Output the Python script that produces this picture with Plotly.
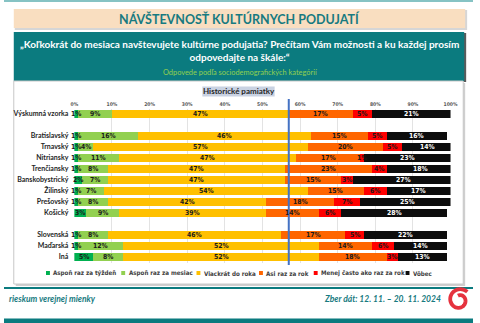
import numpy as np
import plotly.graph_objects as go

W, H = 480, 323

# Row labels (blank strings are spacer rows between groups)
row_labels = ["Výskumná vzorka", "", "Bratislavský", "Trnavský", "Nitriansky", "Trenčiansky",
              "Banskobystrický", "Žilinský", "Prešovský", "Košický", "", "Slovenská", "Maďarská", "Iná"]

series_names = ["Aspoň raz za týždeň", "Aspoň raz za mesiac", "Viackrát do roka",
                "Asi raz za rok", "Menej často ako raz za rok", "Vôbec"]

weekly = [1, None, 1, 1, 1, 1, 2, 1, 1, 3, None, 1, 1, 5]
monthly = [9, None, 16, 4, 11, 8, 7, 7, 8, 9, None, 8, 12, 8]
several_per_year = [47, None, 46, 57, 47, 47, 47, 54, 42, 39, None, 46, 52, 52]
once_per_year = [17, None, 15, 20, 17, 23, 15, 15, 18, 14, None, 17, 14, 18]
less_often = [5, None, 5, 5, 1, 4, 3, 6, 7, 6, None, 5, 6, 3]
never = [21, None, 16, 14, 23, 18, 27, 17, 25, 28, None, 22, 14, 13]

x_ticks = [0, 10, 20, 30, 40, 50, 60, 70, 80, 90, 100]
x_tick_labels = [f"{v}%" for v in x_ticks]

series = [weekly, monthly, several_per_year, once_per_year, less_often, never]
colors = ["#00B050", "#92D050", "#FFC000", "#FF6600", "#FF0000", "#0D0D0D"]
text_colors = ["#1A1A1A", "#1A1A1A", "#1A1A1A", "#1A1A1A", "#1A1A1A", "#FFFFFF"]

TEAL = "#0B7B7F"
NARROW = "Liberation Sans Narrow, Arial Narrow, DejaVu Sans Condensed, sans-serif"
SANS = "Lato, Open Sans, sans-serif"


def px(x):
    return x / W


def py(y):
    return 1 - y / H


ypos = list(range(len(row_labels)))

fig = go.Figure()
for name, vals, col in zip(series_names, series, colors):
    fig.add_trace(go.Bar(
        x=vals, y=ypos, orientation="h", name=name,
        marker=dict(color=col, line=dict(width=0)),
        width=0.8, showlegend=False, hoverinfo="skip",
    ))

# Segment value labels, centred on each segment
annotations = []
for i in ypos:
    cum = 0
    for vals, tc in zip(series, text_colors):
        v = vals[i]
        if v is None:
            continue
        annotations.append(dict(
            x=cum + v / 2, y=i, xref="x", yref="y", text=f"{v}%", showarrow=False,
            font=dict(family=NARROW, size=6.8, color=tc, weight="bold"),
            xanchor="center", yanchor="middle",
        ))
        cum += v

# Reference line at the sample's "at least several times a year" share
ref_x = weekly[0] + monthly[0] + several_per_year[0]

shapes = []
# top thin teal line
shapes.append(dict(type="rect", xref="paper", yref="paper", x0=0, x1=1, y0=py(2), y1=py(0),
                   fillcolor="#86C3C4", line=dict(width=0), layer="below"))
# title box with shadow
shapes.append(dict(type="rect", xref="paper", yref="paper", x0=px(11), x1=px(474), y0=py(30), y1=py(10),
                   fillcolor="#D6D6D6", line=dict(width=0), layer="below"))
shapes.append(dict(type="rect", xref="paper", yref="paper", x0=px(10), x1=px(472), y0=py(28), y1=py(9),
                   fillcolor="#F9DEC0", line=dict(width=0), layer="below"))
# question box
shapes.append(dict(type="rect", xref="paper", yref="paper", x0=px(11), x1=px(473), y0=py(82), y1=py(33),
                   fillcolor="#5A5A5A", line=dict(width=0), layer="below"))
shapes.append(dict(type="rect", xref="paper", yref="paper", x0=px(10), x1=px(471), y0=py(81), y1=py(32),
                   fillcolor=TEAL, line=dict(width=0), layer="below"))
# chart panel with shadow
shapes.append(dict(type="rect", xref="paper", yref="paper", x0=px(12), x1=px(472), y0=py(286), y1=py(83),
                   fillcolor="#CFCFCF", line=dict(width=0), layer="below"))
shapes.append(dict(type="rect", xref="paper", yref="paper", x0=px(10), x1=px(470), y0=py(284), y1=py(81),
                   fillcolor="#FFFFFF", line=dict(color="#C8C8C8", width=1), layer="below"))
# panel heading box
shapes.append(dict(type="rect", xref="paper", yref="paper", x0=px(203), x1=px(277), y0=py(96.5), y1=py(86.5),
                   fillcolor="#C9D2E2", line=dict(width=0), layer="below"))
# reference line
shapes.append(dict(type="line", xref="x", yref="paper", x0=ref_x, x1=ref_x, y0=py(265), y1=py(99),
                   line=dict(color="#4472C4", width=2)))
# footer lines
shapes.append(dict(type="rect", xref="paper", yref="paper", x0=0, x1=1, y0=py(289), y1=py(287),
                   fillcolor=TEAL, line=dict(width=0), layer="below"))
shapes.append(dict(type="rect", xref="paper", yref="paper", x0=0, x1=1, y0=py(323), y1=py(318.5),
                   fillcolor=TEAL, line=dict(width=0), layer="below"))

# legend swatches and labels
legend_x = [45, 122, 199, 263, 319, 413]
for lx, name, col in zip(legend_x, series_names, colors):
    shapes.append(dict(type="rect", xref="paper", yref="paper", x0=px(lx - 2), x1=px(lx + 2),
                       y0=py(275), y1=py(271), fillcolor=col, line=dict(width=0)))
    annotations.append(dict(x=px(lx + 3.5), y=py(273), xref="paper", yref="paper", text=name,
                            showarrow=False, xanchor="left", yanchor="middle",
                            font=dict(family=NARROW, size=6.2, color="#404040", weight="bold")))

# logo swirl
theta = np.linspace(0.25 * np.pi, 2.6 * np.pi, 90)
r = 11.5 - 7.0 * (theta - theta[0]) / (theta[-1] - theta[0])
cx, cy = 466, 300
pts = [(px(cx + rr * np.cos(t)), py(cy - rr * np.sin(t))) for rr, t in zip(r, theta)]
path = "M " + " L ".join(f"{a:.5f},{b:.5f}" for a, b in pts)
shapes.append(dict(type="path", xref="paper", yref="paper", path=path,
                   line=dict(color="#E5323E", width=3.8)))

# texts
annotations += [
    dict(x=0.5 * (px(10) + px(472)), y=py(18.5), xref="paper", yref="paper",
         text="NÁVŠTEVNOSŤ KULTÚRNYCH PODUJATÍ", showarrow=False, yanchor="middle",
         font=dict(family=SANS, size=12.5, color="#177A80", weight="bold")),
    dict(x=px(241), y=py(50), xref="paper", yref="paper", yanchor="middle",
         text="„Koľkokrát do mesiaca navštevujete kultúrne podujatia? Prečítam Vám možnosti a ku každej prosím<br>odpovedajte na škále:“",
         showarrow=False, align="center",
         font=dict(family=SANS, size=10, color="#FFFFFF", weight="bold")),
    dict(x=px(242), y=py(73), xref="paper", yref="paper", yanchor="middle",
         text="Odpovede podľa sociodemografických kategórií", showarrow=False,
         font=dict(family=SANS, size=7.4, color="#92D050")),
    dict(x=px(240), y=py(91.5), xref="paper", yref="paper", yanchor="middle",
         text="Historické pamiatky", showarrow=False,
         font=dict(family=SANS, size=8, color="#262626", weight="bold")),
    dict(x=px(3), y=py(299), xref="paper", yref="paper", xanchor="left", yanchor="middle",
         text="<i>rieskum verejnej mienky</i>", showarrow=False,
         font=dict(family=SANS, size=8.5, color="#177A80", weight="bold")),
    dict(x=px(449), y=py(299), xref="paper", yref="paper", xanchor="right", yanchor="middle",
         text="<i>Zber dát: 12. 11. – 20. 11. 2024</i>", showarrow=False,
         font=dict(family=SANS, size=8.5, color="#177A80", weight="bold")),
]

n = len(row_labels)
row_px = 11
fig.update_layout(
    width=W, height=H, margin=dict(l=0, r=0, t=0, b=0),
    paper_bgcolor="#FFFFFF", plot_bgcolor="rgba(0,0,0,0)",
    barmode="stack", bargap=0.2,
    shapes=shapes, annotations=annotations,
    xaxis=dict(domain=[px(72), px(457)], range=[0, 100], side="top",
               tickvals=x_ticks, ticktext=x_tick_labels,
               tickfont=dict(family=NARROW, size=5, color="#595959", weight="bold"),
               showgrid=True, gridcolor="#E3E3E3", gridwidth=1, zeroline=False,
               showline=False, ticks="", ticklabelstandoff=1, fixedrange=True),
    yaxis=dict(domain=[py(108.5 + row_px * n), py(108.5)],
               range=[n - 0.5, -0.5], tickvals=ypos, ticktext=row_labels,
               tickfont=dict(family=SANS, size=7, color="#262626", weight="bold"),
               showgrid=False, zeroline=False, showline=False, ticks="",
               ticklabelstandoff=5, fixedrange=True),
    showlegend=False,
)

fig.write_html("out.html")
